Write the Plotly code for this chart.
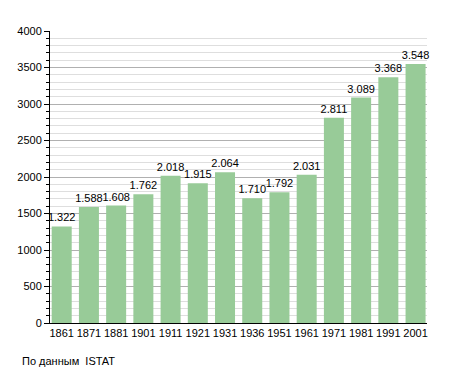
import plotly.graph_objects as go

years = ["1861", "1871", "1881", "1901", "1911", "1921", "1931", "1936", "1951", "1961", "1971", "1981", "1991", "2001"]
population = [1322, 1588, 1608, 1762, 2018, 1915, 2064, 1710, 1792, 2031, 2811, 3089, 3368, 3548]
value_labels = ["1.322", "1.588", "1.608", "1.762", "2.018", "1.915", "2.064", "1.710", "1.792", "2.031", "2.811", "3.089", "3.368", "3.548"]
y_ticks = [0, 500, 1000, 1500, 2000, 2500, 3000, 3500, 4000]
source_note = "По данным  ISTAT"

FONT = "Liberation Sans, Arial, sans-serif"

fig = go.Figure()
fig.add_trace(go.Bar(
    x=list(range(len(years))),
    y=population,
    text=value_labels,
    textposition="outside",
    constraintext="none",
    cliponaxis=False,
    textfont=dict(family=FONT, size=11, color="#000000"),
    marker=dict(color="rgb(152,203,152)", line=dict(width=0)),
    hoverinfo="skip",
))

# page body has an 8px default margin, so the figure is sized/offset to compensate
fig.update_layout(
    width=447, height=365,
    margin=dict(l=42, r=28, t=23, b=49.5, autoexpand=False),
    paper_bgcolor="white", plot_bgcolor="white",
    bargap=0.265,
    showlegend=False,
    font=dict(family=FONT, size=11, color="#000000"),
    annotations=[dict(
        text=source_note, xref="paper", yref="paper",
        x=-30/377, y=-38.5/292.5, xanchor="left", yanchor="middle",
        showarrow=False,
        font=dict(family=FONT, size=11, color="#000000"),
    )],
)

fig.update_xaxes(
    range=[-0.43, 13.42],
    automargin=False,
    tickmode="array", tickvals=list(range(len(years))), ticktext=years,
    showgrid=False, zeroline=False,
    showline=True, linecolor="#000000", linewidth=1,
    ticks="", ticklen=0,
    tickfont=dict(family=FONT, size=11, color="#000000"),
)

fig.update_yaxes(
    range=[0, 4000],
    automargin=False,
    tickmode="array", tickvals=y_ticks, ticktext=[str(v) for v in y_ticks],
    showgrid=True, gridcolor="#b0b0b0", gridwidth=1,
    zeroline=False,
    showline=True, linecolor="#000000", linewidth=1,
    ticks="outside", ticklen=5, tickcolor="#000000", tickwidth=1,
    tickfont=dict(family=FONT, size=11, color="#000000"),
    minor=dict(dtick=100, showgrid=True, gridcolor="#dedede", gridwidth=1,
               ticks="outside", ticklen=3, tickcolor="#000000", tickwidth=1),
)

fig.write_html("out.html")
